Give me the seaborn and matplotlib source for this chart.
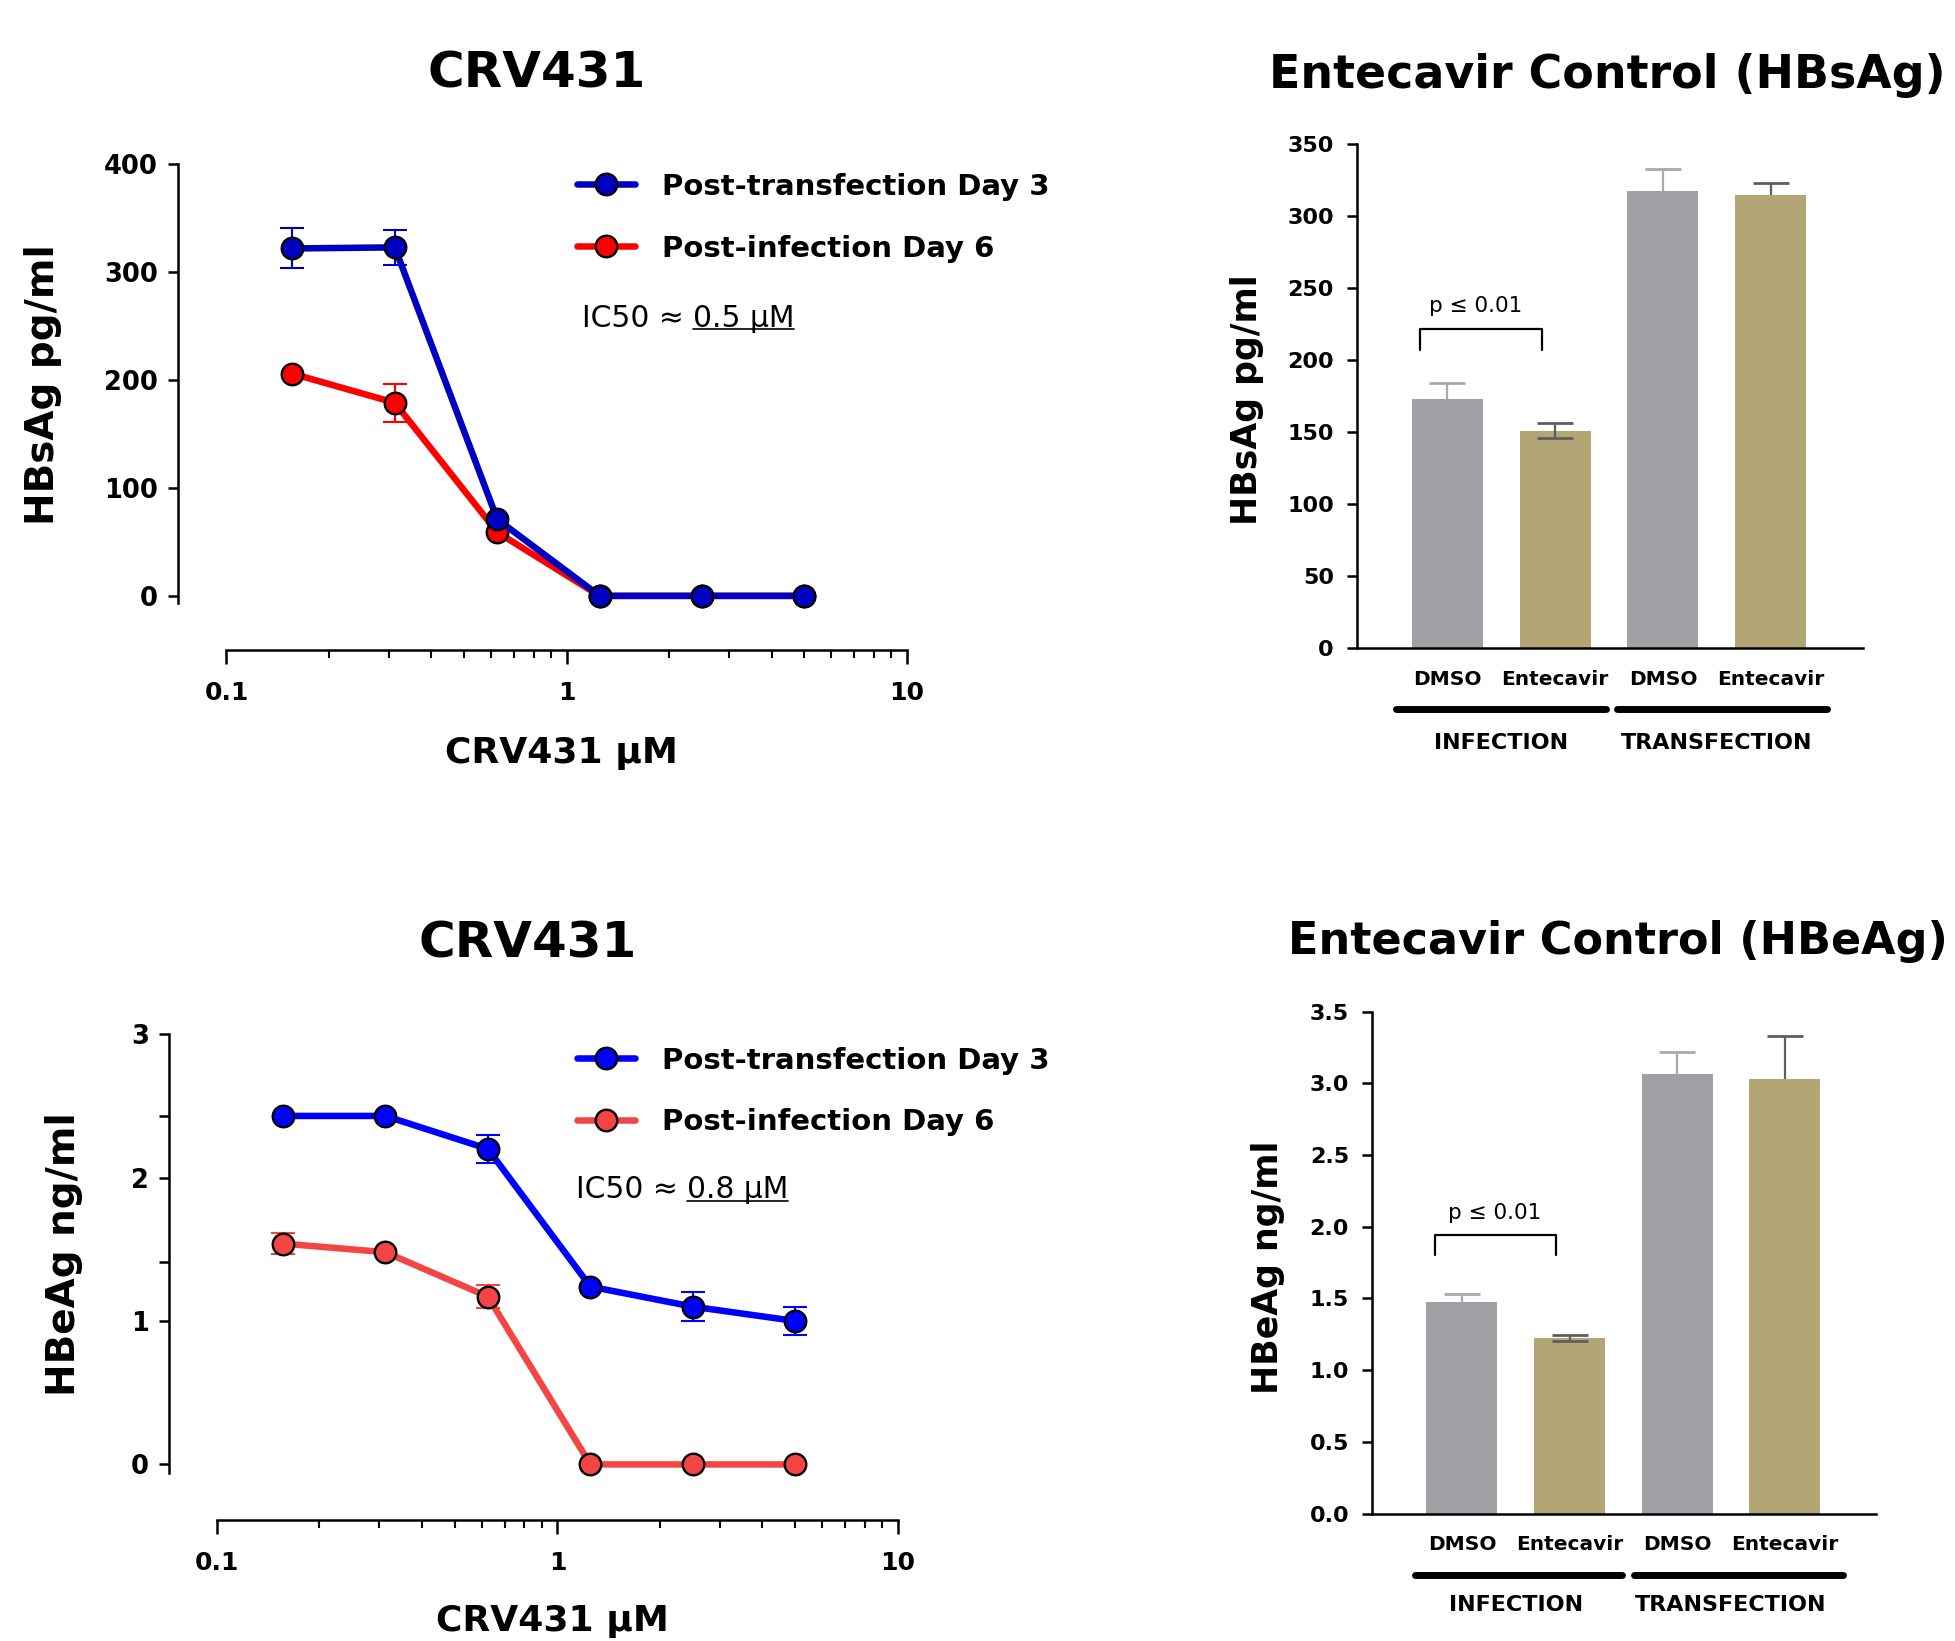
import numpy as np
import pandas as pd
import matplotlib
matplotlib.use("Agg")
import matplotlib.pyplot as plt
import matplotlib.transforms as mtransforms
from matplotlib.lines import Line2D
from matplotlib.ticker import FixedLocator, NullFormatter
import seaborn as sns

# ---------------- data ----------------
conc_uM = [0.156, 0.3125, 0.625, 1.25, 2.5, 5.0]

hbsag_transfection = [322, 323, 71, 0, 0, 0]
hbsag_transfection_err = [18.5, 16, 0, 0, 0, 0]
hbsag_infection = [206, 179, 59, 0, 0, 0]
hbsag_infection_err = [0, 17.5, 0, 0, 0, 0]

hbeag_transfection = [2.43, 2.43, 2.20, 1.24, 1.10, 1.00]
hbeag_transfection_err = [0, 0, 0.095, 0, 0.10, 0.10]
hbeag_infection = [1.54, 1.48, 1.17, 0, 0, 0]
hbeag_infection_err = [0.075, 0, 0.08, 0, 0, 0]

series_labels = ["Post-transfection Day 3", "Post-infection Day 6"]
ic50_hbsag = "0.5 µM"
ic50_hbeag = "0.8 µM"

bar_conditions = ["Infection DMSO", "Infection Entecavir", "Transfection DMSO", "Transfection Entecavir"]
bar_treatments = ["DMSO", "Entecavir", "DMSO", "Entecavir"]
bar_groups = ["INFECTION", "TRANSFECTION"]

hbsag_bar = [173, 150.7, 317.7, 315]
hbsag_bar_err_up = [11, 5.5, 15.5, 8]
hbsag_bar_err_low = [0, 5, 0, 0]

hbeag_bar = [1.478, 1.224, 3.061, 3.026]
hbeag_bar_err_up = [0.052, 0.022, 0.154, 0.305]
hbeag_bar_err_low = [0, 0.02, 0, 0]

p_text = "p ≤ 0.01"

# ---------------- style ----------------
sns.set_style("ticks")
plt.rcParams['font.family'] = ['DejaVu Sans']
plt.rcParams['axes.linewidth'] = 1.8
plt.rcParams['axes.edgecolor'] = 'black'
plt.rcParams['text.color'] = 'black'
plt.rcParams['axes.labelcolor'] = 'black'
plt.rcParams['xtick.color'] = 'black'
plt.rcParams['ytick.color'] = 'black'

W, H = 1956, 1641
fig = plt.figure(figsize=(W / 100, H / 100), dpi=100)
fig.patch.set_facecolor("white")


def fx(x):
    return x / W


def fy(y):
    return 1 - y / H


def add_ax(x0, y0, x1, y1):
    return fig.add_axes([x0 / W, 1 - y1 / H, (x1 - x0) / W, (y1 - y0) / H])


BAR_COLORS = ["#A1A0A5", "#B2A674", "#A1A0A5", "#B2A674"]
ERR_COLORS = ["#A9A9A9", "#5E5E5E", "#A9A9A9", "#5E5E5E"]
LW = 4.7
MS = 15.5


def line_panel(ax, series, errs, colors, xlim, ylim, yspine, yticks, yminor=None):
    ax.set_xscale("log")
    # draw infection first, transfection on top
    for y, e, c in list(zip(series, errs, colors))[::-1]:
        xs = [x for x, ee in zip(conc_uM, e) if ee > 0]
        ys = [v for v, ee in zip(y, e) if ee > 0]
        es = [ee for ee in e if ee > 0]
        if xs:
            ax.errorbar(xs, ys, yerr=es, fmt="none", ecolor=c, elinewidth=1.5,
                        capsize=8.5, capthick=1.5, zorder=2, clip_on=False)
        sns.lineplot(x=conc_uM, y=y, ax=ax, color=c, lw=LW, marker="o",
                     markersize=MS, markeredgecolor="black", markeredgewidth=1.7,
                     zorder=3, clip_on=False, errorbar=None)
    ax.set_xlim(*xlim)
    ax.set_ylim(*ylim)
    sns.despine(ax=ax)
    ax.spines["left"].set_bounds(*yspine)
    ax.spines["bottom"].set_bounds(0.1, 10)
    ax.set_xticks([0.1, 1, 10], labels=["0.1", "1", "10"])
    minor = [m * d for d in (0.1, 1) for m in range(2, 10)]
    ax.xaxis.set_minor_locator(FixedLocator(minor))
    ax.xaxis.set_minor_formatter(NullFormatter())
    ax.set_yticks(yticks, labels=[f"{t:g}" for t in yticks])
    if yminor is not None:
        ax.set_yticks(yminor, minor=True)
    ax.tick_params(axis="x", which="major", length=10, width=1.8, pad=13, labelsize=18)
    ax.tick_params(axis="x", which="minor", length=5.5, width=1.5)
    ax.tick_params(axis="y", which="both", length=7.5, width=1.8, pad=7, labelsize=18.5)
    for lab in ax.get_xticklabels() + ax.get_yticklabels():
        lab.set_fontweight("bold")
    ax.set_xlabel("")
    ax.set_ylabel("")
    ax.set_facecolor("none")


def bar_panel(ax, vals, up, low, xlim, ylim, yticks, ylabels, grp_y, line_spans, brk):
    sns.barplot(x=bar_conditions, y=vals, hue=bar_conditions, palette=BAR_COLORS,
                order=bar_conditions, hue_order=bar_conditions, width=0.66,
                saturation=1, errorbar=None, legend=False, ax=ax, linewidth=0)
    for i, (v, u, l, ec) in enumerate(zip(vals, up, low, ERR_COLORS)):
        cont = ax.errorbar([i], [v], yerr=[[l], [u]], fmt="none", ecolor=ec,
                           elinewidth=1.6, capsize=13, capthick=2.0, zorder=3, clip_on=False)
        if l == 0:
            cont[1][0].set_visible(False)
    ax.set_xlim(*xlim)
    ax.set_ylim(*ylim)
    sns.despine(ax=ax)
    ax.set_yticks(yticks, labels=ylabels)
    ax.set_xticks(range(len(bar_treatments)), labels=bar_treatments)
    ax.tick_params(axis="x", length=0, pad=15.5, labelsize=14.5)
    ax.tick_params(axis="y", length=7.5, width=1.8, pad=9, labelsize=16)
    for lab in ax.get_xticklabels() + ax.get_yticklabels():
        lab.set_fontweight("bold")
    ax.set_xlabel("")
    ax.set_ylabel("")
    trans = mtransforms.blended_transform_factory(ax.transData, ax.transAxes)
    line_y, text_y = grp_y
    for (a, b), g, c in zip(line_spans, bar_groups, [0.5, 2.5]):
        ax.plot([a, b], [line_y, line_y], transform=trans, color="black", lw=5,
                solid_capstyle="round", clip_on=False)
        ax.text(c, text_y, g, transform=trans, ha="center", va="center",
                fontsize=16, fontweight="bold")
    (bx0, bx1, btop, bleg, tx, ty) = brk
    ax.plot([bx0, bx0, bx1, bx1], [bleg, btop, btop, bleg], color="black", lw=1.6,
            clip_on=False)
    ax.text(tx, ty, p_text, ha="center", va="center", fontsize=15.5)


# ---------------- top-left ----------------
ax1 = add_ax(177.9, 164.3, 906.9, 649.5)
line_panel(ax1, [hbsag_transfection, hbsag_infection],
           [hbsag_transfection_err, hbsag_infection_err],
           ["#0000C0", "#FF0000"], (0.0720, 10), (-49.7, 400), (-7, 400),
           [0, 100, 200, 300, 400])

# ---------------- bottom-left ----------------
ax3 = add_ax(169, 1034.2, 898, 1519.5)
line_panel(ax3, [hbeag_transfection, hbeag_infection],
           [hbeag_transfection_err, hbeag_infection_err],
           ["#0000FF", "#F44444"], (0.0724, 10), (-0.384, 3), (-0.06, 3),
           [0, 1, 2, 3], yminor=[1.41, 2.43])

# ---------------- top-right ----------------
ax2 = add_ax(1356.7, 144.4, 1862.8, 648)
bar_panel(ax2, hbsag_bar, hbsag_bar_err_up, hbsag_bar_err_low, (-0.840, 3.854), (0, 350),
          list(range(0, 351, 50)), [str(v) for v in range(0, 351, 50)],
          (-0.121, -0.189), [(-0.473, 1.469), (1.575, 3.52)],
          (-0.257, 0.88, 221.6, 206.8, 0.262, 237.7))

# ---------------- bottom-right ----------------
ax4 = add_ax(1372, 1011.5, 1876.2, 1513.5)
bticks = [0, 0.5, 1.0, 1.5, 2.0, 2.5, 3.0, 3.5]
bar_panel(ax4, hbeag_bar, hbeag_bar_err_up, hbeag_bar_err_low, (-0.836, 3.85), (0, 3.5),
          bticks, [f"{v:.1f}" for v in bticks],
          (-0.1225, -0.183), [(-0.44, 1.49), (1.60, 3.54)],
          (-0.247, 0.875, 1.942, 1.80, 0.308, 2.094))

# ---------------- titles & labels ----------------
fig.text(fx(537), fy(74), "CRV431", ha="center", va="center", fontsize=36, fontweight="bold")
fig.text(fx(528), fy(943), "CRV431", ha="center", va="center", fontsize=36, fontweight="bold")
fig.text(fx(1607), fy(76), "Entecavir Control (HBsAg)", ha="center", va="center",
         fontsize=33, fontweight="bold")
fig.text(fx(1618), fy(941), "Entecavir Control (HBeAg)", ha="center", va="center",
         fontsize=32, fontweight="bold")

fig.text(fx(43), fy(385), "HBsAg pg/ml", rotation=90, ha="center", va="center",
         fontsize=28, fontweight="bold")
fig.text(fx(64), fy(1254), "HBeAg ng/ml", rotation=90, ha="center", va="center",
         fontsize=28, fontweight="bold")
fig.text(fx(1247), fy(400), "HBsAg pg/ml", rotation=90, ha="center", va="center",
         fontsize=25, fontweight="bold")
fig.text(fx(1268), fy(1267), "HBeAg ng/ml", rotation=90, ha="center", va="center",
         fontsize=25, fontweight="bold")

fig.text(fx(561), fy(753), "CRV431 µM", ha="center", va="center", fontsize=26, fontweight="bold")
fig.text(fx(552), fy(1621), "CRV431 µM", ha="center", va="center", fontsize=26, fontweight="bold")

# ---------------- legends ----------------
for ax, colors, top in [(ax1, ["#0000C0", "#FF0000"], 172.7), (ax3, ["#0000FF", "#F44444"], 1046.6)]:
    handles = [Line2D([], [], color=c, lw=LW, marker="o", markersize=MS,
                      markeredgecolor="black", markeredgewidth=1.7) for c in colors]
    ax.legend(handles, series_labels, loc="upper left",
              bbox_to_anchor=(fx(577), fy(top)), bbox_transform=fig.transFigure,
              frameon=False, prop={"weight": "bold", "size": 21}, handlelength=2.0,
              handletextpad=0.9, labelspacing=1.16, borderpad=0, borderaxespad=0,
              numpoints=1)

# ---------------- IC50 annotations ----------------
ic_texts = []
for (x1, x2, base, val) in [(582, 693, 326.7, ic50_hbsag), (576, 687, 1198.5, ic50_hbeag)]:
    fig.text(fx(x1), fy(base), "IC50 ≈", ha="left", va="baseline", fontsize=21.4)
    t2 = fig.text(fx(x2), fy(base), val, ha="left", va="baseline", fontsize=21.4)
    ic_texts.append((t2, base))

fig.canvas.draw()
renderer = fig.canvas.get_renderer()
for t2, base in ic_texts:
    bb = t2.get_window_extent(renderer)
    yline = fy(base + 2)
    fig.add_artist(Line2D([bb.x0 / W, bb.x1 / W], [yline, yline],
                          transform=fig.transFigure, color="black", lw=1.2))

fig.savefig("out.png", dpi=100, facecolor="white")
